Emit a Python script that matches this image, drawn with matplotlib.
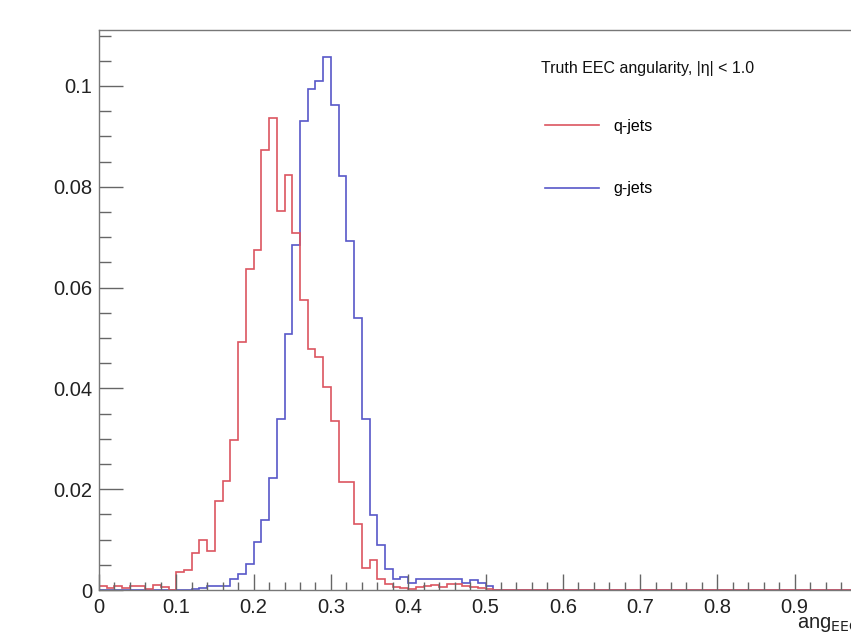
import numpy as np
import matplotlib
matplotlib.use("Agg")
import matplotlib.pyplot as plt

# -----------------------
# data: normalised EEC angularity, 100 bins on [0, 1]
# -----------------------

q_jets = [
    0.0008, 0.0003, 0.0008, 0.0004, 0.0007, 0.0008, 0.0002, 0.0010, 0.0005, 0.0000,
    0.0035, 0.0039, 0.0073, 0.0099, 0.0078, 0.0176, 0.0216, 0.0297, 0.0492, 0.0637,
    0.0675, 0.0872, 0.0936, 0.0752, 0.0823, 0.0708, 0.0575, 0.0478, 0.0463, 0.0402,
    0.0335, 0.0214, 0.0214, 0.0131, 0.0043, 0.0060, 0.0021, 0.0012, 0.0005, 0.0004,
    0.0002, 0.0006, 0.0008, 0.0010, 0.0006, 0.0012, 0.0012, 0.0008, 0.0006, 0.0004,
    0.0002, 0.0000, 0.0000, 0.0000, 0.0000, 0.0000, 0.0000, 0.0000, 0.0000, 0.0000,
    0.0000, 0.0000, 0.0000, 0.0000, 0.0000, 0.0000, 0.0000, 0.0000, 0.0000, 0.0000,
    0.0000, 0.0000, 0.0000, 0.0000, 0.0000, 0.0000, 0.0000, 0.0000, 0.0000, 0.0000,
    0.0000, 0.0000, 0.0000, 0.0000, 0.0000, 0.0000, 0.0000, 0.0000, 0.0000, 0.0000,
    0.0000, 0.0000, 0.0000, 0.0000, 0.0000, 0.0000, 0.0000, 0.0000, 0.0000, 0.0000,
]

g_jets = [
    0.0000, 0.0000, 0.0000, 0.0000, 0.0000, 0.0000, 0.0000, 0.0000, 0.0000, 0.0000,
    0.0000, 0.0000, 0.0001, 0.0004, 0.0007, 0.0008, 0.0008, 0.0021, 0.0031, 0.0052,
    0.0096, 0.0138, 0.0222, 0.0340, 0.0508, 0.0685, 0.0930, 0.0993, 0.1009, 0.1058,
    0.0962, 0.0821, 0.0693, 0.0540, 0.0340, 0.0149, 0.0089, 0.0041, 0.0022, 0.0025,
    0.0013, 0.0021, 0.0021, 0.0021, 0.0022, 0.0022, 0.0022, 0.0013, 0.0019, 0.0013,
    0.0008, 0.0000, 0.0000, 0.0000, 0.0000, 0.0000, 0.0000, 0.0000, 0.0000, 0.0000,
    0.0000, 0.0000, 0.0000, 0.0000, 0.0000, 0.0000, 0.0000, 0.0000, 0.0000, 0.0000,
    0.0000, 0.0000, 0.0000, 0.0000, 0.0000, 0.0000, 0.0000, 0.0000, 0.0000, 0.0000,
    0.0000, 0.0000, 0.0000, 0.0000, 0.0000, 0.0000, 0.0000, 0.0000, 0.0000, 0.0000,
    0.0000, 0.0000, 0.0000, 0.0000, 0.0000, 0.0000, 0.0000, 0.0000, 0.0000, 0.0000,
]

edges = np.linspace(0, 1, 101)

# the "1" label sits past the right edge of the original picture
xticks = [0, 0.1, 0.2, 0.3, 0.4, 0.5, 0.6, 0.7, 0.8, 0.9]
xtick_labels = ["0", "0.1", "0.2", "0.3", "0.4", "0.5", "0.6", "0.7", "0.8", "0.9"]
yticks = [0, 0.02, 0.04, 0.06, 0.08, 0.1]
ytick_labels = ["0", "0.02", "0.04", "0.06", "0.08", "0.1"]

plt.rcParams["font.family"] = ["Liberation Sans", "DejaVu Sans"]

fig = plt.figure(figsize=(8.51, 6.36), dpi=100)
# frame runs past the right edge of the picture, like the cropped original
ax = fig.add_axes([99 / 851, 46 / 636, 773 / 851, 560 / 636])

ax.stairs(g_jets, edges, color="#5858c8", lw=1.2, baseline=None, label="g-jets")
ax.stairs(q_jets, edges, color="#dc5560", lw=1.2, baseline=None, label="q-jets")

ax.set_xlim(0, 1)
ax.set_ylim(0, 0.1111)

ax.set_xticks(xticks)
ax.set_xticklabels(xtick_labels)
ax.set_xticks(np.arange(0, 1.0001, 0.02), minor=True)
ax.set_yticks(yticks)
ax.set_yticklabels(ytick_labels)
ax.set_yticks(np.arange(0, 0.111, 0.005), minor=True)

ax.tick_params(axis="both", which="both", direction="in", colors="#666666",
               labelcolor="#222222", labelsize=14.5, width=1)
ax.tick_params(axis="x", which="major", length=11.5, pad=6)
ax.tick_params(axis="x", which="minor", length=5.8)
ax.tick_params(axis="y", which="major", length=17, pad=5)
ax.tick_params(axis="y", which="minor", length=8.5)

for s in ax.spines.values():
    s.set_color("#777777")
    s.set_linewidth(1)

ax.text(1.0 - 12 / 773, -0.068, r"ang$_{\mathrm{EEC}}$", transform=ax.transAxes,
        ha="right", va="baseline", fontsize=14.5, color="#222222", clip_on=False)

fig.text(541 / 851, 1 - 68 / 636, "Truth EEC angularity, |η| < 1.0",
         ha="left", va="center", fontsize=11.5, color="#111111")

handles, labels = ax.get_legend_handles_labels()
leg = ax.legend(handles[::-1], labels[::-1],
                loc="upper left", bbox_to_anchor=(545 / 851, 1 - 119 / 636),
                bbox_transform=fig.transFigure, frameon=False,
                fontsize=11.5, borderpad=0, borderaxespad=0, handlelength=3.4,
                handletextpad=0.9, labelspacing=2.95)

fig.savefig("out.png", dpi=100)
